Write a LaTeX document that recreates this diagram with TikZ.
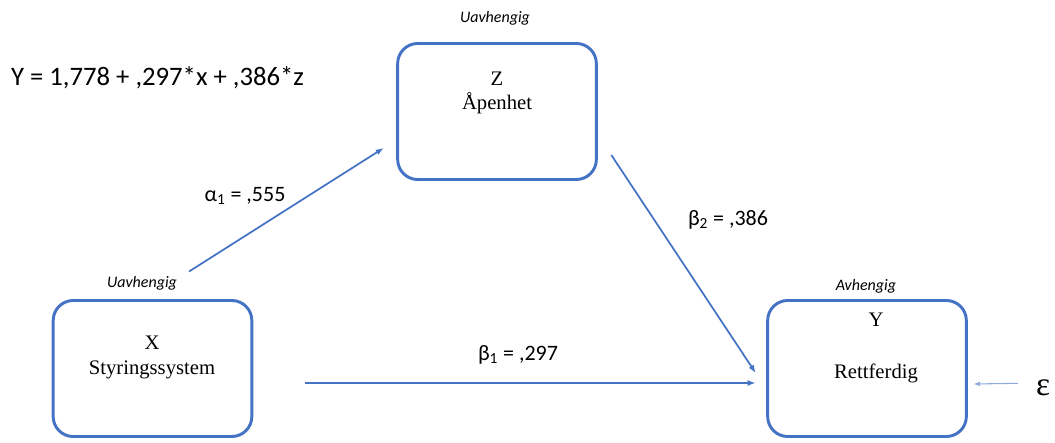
\documentclass[tikz,border=0pt]{standalone}
\usepackage{fontspec}
\setmainfont{Carlito}
\newfontfamily\boxfont{Liberation Serif}
\usetikzlibrary{arrows.meta}
\definecolor{boxblue}{RGB}{68,114,196}
\definecolor{epsblue}{RGB}{143,170,220}

\begin{document}
\begin{tikzpicture}[
                        x=0.75pt, y=-0.75pt,
                        >={Latex[length=6pt,width=4.5pt]},
                        var/.style={rectangle, rounded corners=15pt, draw=boxblue, line width=2.2pt,
                                    minimum width=149pt, minimum height=102pt},
                        link/.style={->, draw=boxblue, line width=1.3pt},
                        role/.style={anchor=base, font=\fontsize{12}{14}\selectfont\itshape},
                        coef/.style={anchor=base, font=\fontsize{16.5}{19}\selectfont},
                        vartext/.style={anchor=base, font=\boxfont\fontsize{15.5}{18}\selectfont}
                    ]
                    \useasboundingbox (0,0) rectangle (1055,442);

                    % Blocks
                    \node [var] (z) at (497,111.5) {};
                    \node [var] (x) at (152.5,368.5) {};
                    \node [var] (y) at (867,368.5) {};

                    \node [vartext] (zname) at (497,86) {Z};
                    \node [vartext] (ztext) at (497,110) {Åpenhet};
                    \node [vartext] (xname) at (152,349) {X};
                    \node [vartext] (xtext) at (152,374) {Styringssystem};
                    \node [vartext] (yname) at (876,326) {Y};
                    \node [vartext] (ytext) at (876,378) {Rettferdig};

                    \node [role] (zrole) at (495,23) {Uavhengig};
                    \node [role] (xrole) at (142,287) {Uavhengig};
                    \node [role] (yrole) at (866,290) {Avhengig};

                    \node [anchor=base, font=\fontsize{20}{24}\selectfont] (eq) at (157.5,86)
                        {Y = 1,778 + ,297*x + ,386*z};
                    \node [anchor=base, inner sep=0pt, font=\boxfont\fontsize{25}{28}\selectfont] (eps) at (1043,395) {ε};

                    % Connections
                    \draw [link] ([shift={(36.5,-27.5)}]x.north) -- ([shift={(-12.5,36.5)}]z.west);
                    \draw [link] ([shift={(13.5,43.5)}]z.east) -- ([shift={(-10.5,4.5)}]y.west);
                    \draw [link] ([shift={(52,14.5)}]x.east) -- ([shift={(-10.5,14.5)}]y.west);
                    \draw [->, draw=epsblue, line width=0.8pt, >={Latex[length=5pt,width=3.5pt]}]
                        ([shift={(-18,-4)}]eps.west) -- ([shift={(5.5,15.5)}]y.east);

                    \node [coef] (a1) at (245,201) {α\textsubscript{1} = ,555};
                    \node [coef] (b2) at (728,225) {β\textsubscript{2} = ,386};
                    \node [coef] (b1) at (518,360) {β\textsubscript{1} = ,297};
                \end{tikzpicture}
\end{document}
